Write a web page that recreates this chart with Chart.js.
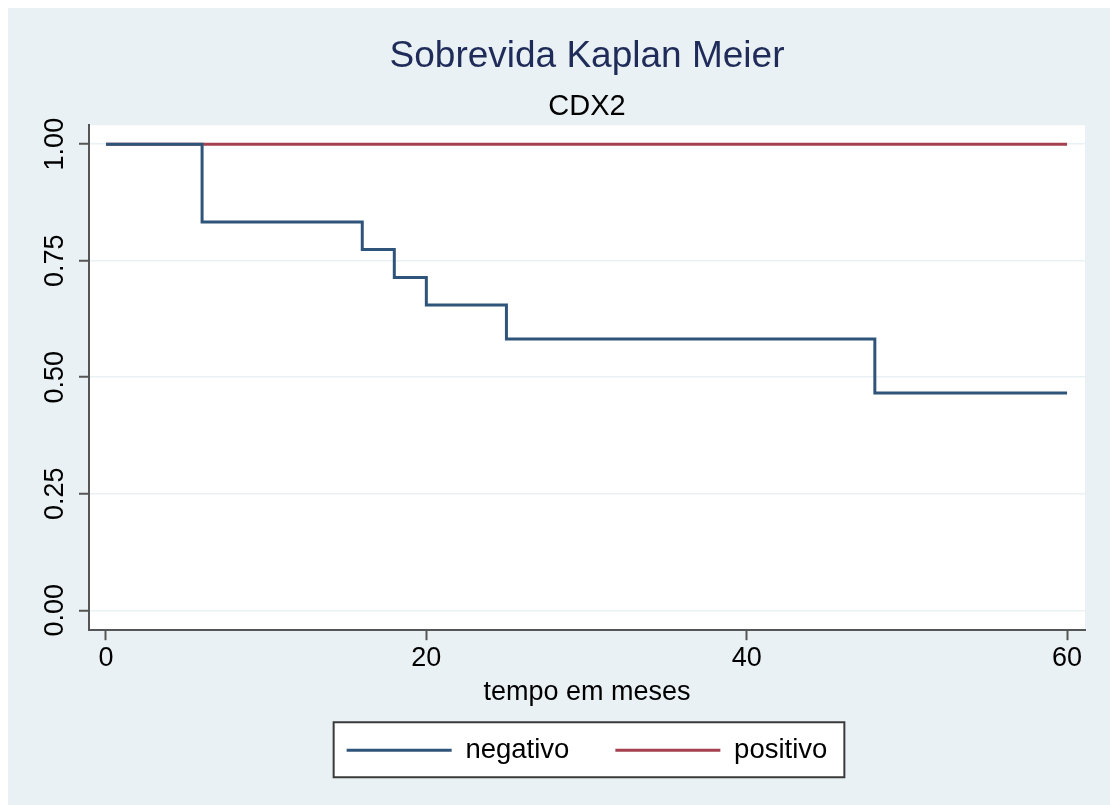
<!DOCTYPE html>
<html>
<head>
<meta charset="utf-8">
<title>Sobrevida Kaplan Meier</title>
<script src="https://cdn.jsdelivr.net/npm/chart.js@4.4.1/dist/chart.umd.min.js"></script>
<style>
  html, body { margin: 0; padding: 0; background: #fff; overflow: hidden; }
  #wrap { position: relative; width: 1110px; height: 805px; }
</style>
</head>
<body>
<div id="wrap"><canvas id="kmChart" width="1110" height="805"></canvas></div>
<script>
// curva de sobrevida (tempo em meses)
const timeNeg = [0, 6, 16, 18, 20, 25, 48, 60];
const survNeg = [1, 0.833, 0.774, 0.714, 0.655, 0.582, 0.466, 0.466];
const timePos = [0, 60];
const survPos = [1, 1];

const seriesNames = ["negativo", "positivo"];
const xTicks = [0, 20, 40, 60];
const yTicks = [0, 0.25, 0.5, 0.75, 1];
const yTickLabels = ["0.00", "0.25", "0.50", "0.75", "1.00"];

const bgColor = "#eaf1f4";
const axisColor = "#555555";

Chart.defaults.font.family = '"Liberation Sans", Arial, Helvetica, sans-serif';

function toPoints(xs, ys) {
  return xs.map((x, i) => ({ x: x, y: ys[i] }));
}

// fundo cinza azulado, area do grafico branca e moldura da legenda
const backdrop = {
  id: "backdrop",
  beforeDraw(chart) {
    const { ctx, chartArea: a, legend } = chart;
    ctx.save();
    ctx.fillStyle = bgColor;
    ctx.fillRect(8, 8, chart.width - 8, chart.height - 8);
    ctx.fillStyle = "#ffffff";
    ctx.fillRect(a.left, a.top, a.right - a.left, a.bottom - a.top);

    const hb = legend && legend.legendHitBoxes;
    if (hb && hb.length) {
      const first = hb[0];
      const last = hb[hb.length - 1];
      const cy = first.top + first.height / 2;
      const x0 = first.left - 13;
      const x1 = last.left + last.width + 17;
      ctx.fillStyle = "#ffffff";
      ctx.fillRect(x0, cy - 28, x1 - x0, 55);
      ctx.strokeStyle = "#3a3a3a";
      ctx.lineWidth = 2;
      ctx.strokeRect(x0, cy - 28, x1 - x0, 55);
    }
    ctx.restore();
  }
};

const ctx = document.getElementById("kmChart").getContext("2d");
const kmChart = new Chart(ctx, {
  type: "line",
  data: {
    datasets: [
      {
        label: seriesNames[0],
        data: toPoints(timeNeg, survNeg),
        stepped: "before",
        borderColor: "#2f5479",
        backgroundColor: "#2f5479",
        borderWidth: 3,
        pointRadius: 0,
        fill: false,
      },
      {
        label: seriesNames[1],
        data: toPoints(timePos, survPos),
        stepped: "before",
        borderColor: "#a5404f",
        backgroundColor: "#a5404f",
        borderWidth: 3,
        pointRadius: 0,
        fill: false,
      },
    ],
  },
  options: {
    responsive: false,
    animation: false,
    layout: {
      padding: { top: 10, left: 8, right: 25, bottom: 31 },
    },
    plugins: {
      title: {
        display: true,
        fullSize: false, // centrado sobre a area do grafico
        text: "Sobrevida Kaplan Meier",
        color: "#1f2c5a",
        font: { size: 37, weight: "normal" },
        padding: { top: 25, bottom: 0 },
      },
      subtitle: {
        display: true,
        fullSize: false,
        text: "CDX2",
        color: "#000000",
        font: { size: 29, weight: "normal" },
        padding: { top: 10, bottom: 1 },
      },
      legend: {
        position: "bottom",
        fullSize: false,
        labels: {
          usePointStyle: true,
          pointStyle: "line",
          pointStyleWidth: 105,
          padding: 46,
          color: "#000000",
          font: { size: 27.5 },
        },
      },
      tooltip: { enabled: false },
    },
    scales: {
      x: {
        type: "linear",
        min: -1.06,
        max: 61.12,
        afterBuildTicks: (scale) => {
          scale.ticks = xTicks.map((v) => ({ value: v }));
        },
        ticks: {
          color: "#000000",
          font: { size: 27 },
          padding: 2,
          callback: (value) => String(value),
        },
        grid: {
          drawOnChartArea: false,
          tickLength: 10,
          tickColor: axisColor,
          tickWidth: 2,
        },
        border: { color: axisColor, width: 2 },
        title: {
          display: true,
          text: "tempo em meses",
          color: "#000000",
          font: { size: 27 },
          padding: { top: 0, bottom: -18.5 },
        },
      },
      y: {
        type: "linear",
        min: -0.0427,
        max: 1.0406,
        afterBuildTicks: (scale) => {
          scale.ticks = yTicks.map((v) => ({ value: v }));
        },
        afterFit: (scale) => {
          scale.width = 81;
        },
        ticks: {
          color: "#000000",
          font: { size: 27 },
          minRotation: 90,
          crossAlign: "center",
          padding: -3,
          callback: (value, index) => yTickLabels[index],
        },
        grid: {
          color: bgColor,
          lineWidth: 1.5,
          tickLength: 10,
          tickColor: axisColor,
          tickWidth: 2,
        },
        border: { color: axisColor, width: 2 },
      },
    },
  },
  plugins: [backdrop],
});
</script>
</body>
</html>
